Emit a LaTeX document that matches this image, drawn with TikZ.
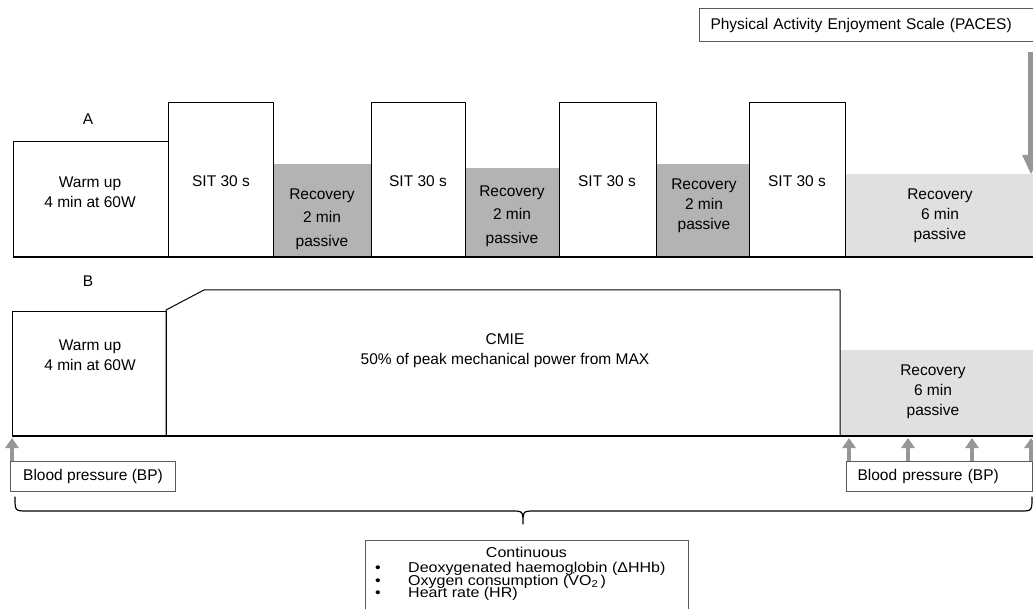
\documentclass[tikz,border=0pt]{standalone}
\usepackage{fontspec}
\setmainfont{Liberation Sans}
\newfontfamily\widesans[FakeStretch=1.12]{Liberation Sans}
\usetikzlibrary{arrows.meta}
\definecolor{recgray}{RGB}{179,179,179}
\definecolor{reclight}{RGB}{224,224,224}
\definecolor{arrowgray}{RGB}{150,150,150}
\definecolor{boxgray}{RGB}{90,90,90}
\newcommand\contfont{\widesans\fontsize{14.3}{12.6}\selectfont\lineskiplimit=-20pt}

\begin{document}
\begin{tikzpicture}[line cap=round,line join=round,x=1pt,y=-1pt,
  txt/.style={align=center,font=\fontsize{15.5}{20}\selectfont},
  txtwide/.style={align=center,font=\fontsize{15.5}{23.5}\selectfont},
  blk/.style={draw=black,line width=1pt,fill=white},
  lbl/.style={draw=boxgray,line width=1pt,fill=white,font=\fontsize{15.5}{20}\selectfont,
    inner xsep=11pt,inner ysep=0pt,minimum height=30pt},
  garrow/.style={draw=arrowgray,line width=4.5pt,line cap=butt,-{Triangle[width=13pt,length=10pt]}},
  bigarrow/.style={draw=arrowgray,line width=6pt,line cap=butt,-{Triangle[width=16pt,length=20pt]}},
  base/.style={line width=2pt,line cap=butt}]
\useasboundingbox (0,0) rectangle (1033,609);
\clip (0,0) rectangle (1033,609);

\fill [recgray] (273,164) rectangle (371,257);
\fill [recgray] (465,168) rectangle (559,257);
\fill [recgray] (656,164) rectangle (749,257);
\fill [reclight] (845,174) rectangle (1040,257);
\draw [blk] (13,142) rectangle (168,257);
\draw [blk] (168,103) rectangle (273,257);
\draw [blk] (371,103) rectangle (465,257);
\draw [blk] (559,103) rectangle (656,257);
\draw [blk] (749,103) rectangle (845,257);
\draw [base] (13,257) -- (1033,257);

\node [txt] (labA) at (88,119) {A};
\node [txt] (warmA) at (90,192) {Warm up\\4 min at 60W};
\node [txt] (sitA1) at (221,181) {SIT 30 s};
\node [txtwide] (recA1) at (322,219) {Recovery\\2 min\\passive};
\node [txt] (sitA2) at (418,181) {SIT 30 s};
\node [txtwide] (recA2) at (512,216) {Recovery\\2 min\\passive};
\node [txt] (sitA3) at (607,181) {SIT 30 s};
\node [txt] (recA3) at (704,206) {Recovery\\2 min\\passive};
\node [txt] (sitA4) at (797,181) {SIT 30 s};
\node [txt] (recA6) at (940,216) {Recovery\\6 min\\passive};

\node [lbl,anchor=west,text width=325pt,align=left,minimum height=33pt] (paces) at (699,25.5) {Physical Activity Enjoyment Scale (PACES)};
\coordinate (pacesTip) at (1031,175);
\draw [bigarrow] ([yshift=-10pt]paces.south -| pacesTip) -- (pacesTip);

\fill [reclight] (840,350) rectangle (1040,436);
\draw [blk] (12,312) rectangle (166,436);
\draw [line width=1pt] (166,436) -- (166,310) -- (204,290) -- (840,290) -- (840,436);
\draw [base] (12,436) -- (1033,436);

\node [txt] (labB) at (88,281) {B};
\node [txt] (warmB) at (90,355) {Warm up\\4 min at 60W};
\node [txt] (cmie) at (505,351) {CMIE\\50\% of peak mechanical power from MAX};
\node [txt] (recB) at (933,392) {Recovery\\6 min\\passive};

\node [lbl,anchor=north west,minimum width=165pt] (bpL) at (10,461) {Blood pressure (BP)};
\node [lbl,anchor=north west,text width=164pt,align=left] (bpR) at (846,461) {Blood pressure (BP)};
\coordinate (bp0) at (12,438);
\coordinate (bp1) at (849,438);
\coordinate (bp2) at (908,438);
\coordinate (bp3) at (972,438);
\coordinate (bp4) at (1031,438);
\draw [garrow] (bpL.north -| bp0) -- (bp0);
\draw [garrow] (bpR.north -| bp1) -- (bp1);
\draw [garrow] (bpR.north -| bp2) -- (bp2);
\draw [garrow] (bpR.north -| bp3) -- (bp3);
\draw [garrow] (bpR.north -| bp4) -- (bp4);

\coordinate (brL) at (15,497);
\coordinate (brR) at (1032,497);
\coordinate (brT) at (523,524);
\draw [line width=1.2pt] (brL) .. controls (15,511) .. (27,511) -- (511,511) .. controls (523,511) .. (brT)
  .. controls (523,511) .. (535,511) -- (1020,511) .. controls (1032,511) .. (brR);

\draw [draw=boxgray,line width=1pt,fill=white] (365,540) rectangle (688,620);
\node [anchor=north,font=\contfont] (contHead) at (526.5,544) {Continuous};
\node [anchor=north west,inner sep=0pt,align=left,font=\contfont] (contList) at (375,562)
  {\makebox[33pt][l]{\textbullet}Deoxygenated haemoglobin (ΔHHb)\\
   \makebox[33pt][l]{\textbullet}Oxygen consumption (\.{V}O\textsubscript{2}\,)\\
   \makebox[33pt][l]{\textbullet}Heart rate (HR)};
\end{tikzpicture}
\end{document}
